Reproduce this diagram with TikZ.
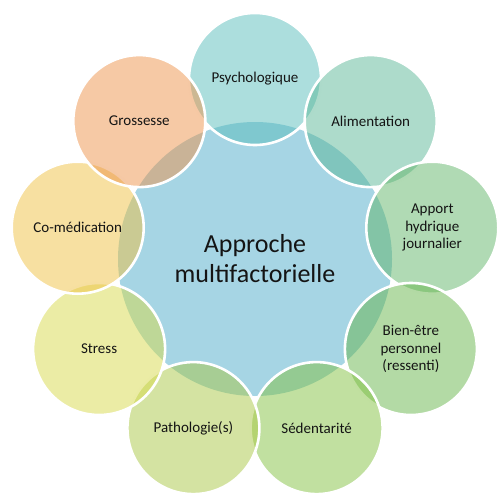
\documentclass[tikz,border=0pt]{standalone}
\usepackage{fontspec}
\setmainfont{Carlito}
\begin{document}
\begin{tikzpicture}[x=1pt,y=-1pt]
\useasboundingbox (0,0) rectangle (497,492);
% palette (petal colours are drawn at half opacity)
\definecolor{hubblue}{RGB}{166,213,228}
\definecolor{cPsy}{RGB}{89,189,187}
\definecolor{cAli}{RGB}{91,183,151}
\definecolor{cApp}{RGB}{97,181,105}
\definecolor{cBie}{RGB}{103,181,75}
\definecolor{cSed}{RGB}{131,193,65}
\definecolor{cPat}{RGB}{169,199,69}
\definecolor{cStr}{RGB}{215,217,75}
\definecolor{cCom}{RGB}{239,193,67}
\definecolor{cGro}{RGB}{237,147,75}
\definecolor{ink}{RGB}{20,20,20}
\tikzset{
  hub/.style={circle, fill=hubblue, minimum size=274pt, inner sep=0pt,
    align=center, text=ink, font=\fontsize{26}{30}\selectfont},
  petal/.style={circle, fill=#1, minimum size=132pt, inner sep=0pt,
    fill opacity=0.5, draw=white, draw opacity=1, line width=2.6pt,
    text opacity=1, text=ink, align=center,
    font=\fontsize{15}{17.5}\selectfont}
}
% central circle
\node[hub] (hub) at (255,259) {Approche\\multifactorielle};
% surrounding factors, clockwise from the top
\node[petal=cPsy] (psy) at (255,79)     {Psychologique};
\node[petal=cAli] (ali) at (370.7,121.1) {Alimentation};
\node[petal=cApp] (app) at (432.3,227.7) {Apport\\hydrique\\journalier};
\node[petal=cBie] (bie) at (410.9,349)   {Bien-être\\personnel\\(ressenti)};
\node[petal=cSed] (sed) at (316.6,428.1) {Sédentarité};
\node[petal=cPat] (pat) at (193.4,428.1) {Pathologie(s)};
\node[petal=cStr] (str) at (99.1,349)    {Stress};
\node[petal=cCom] (com) at (77.7,227.7)  {Co-médication};
\node[petal=cGro] (gro) at (139.3,121.1) {Grossesse};
\end{tikzpicture}
\end{document}
